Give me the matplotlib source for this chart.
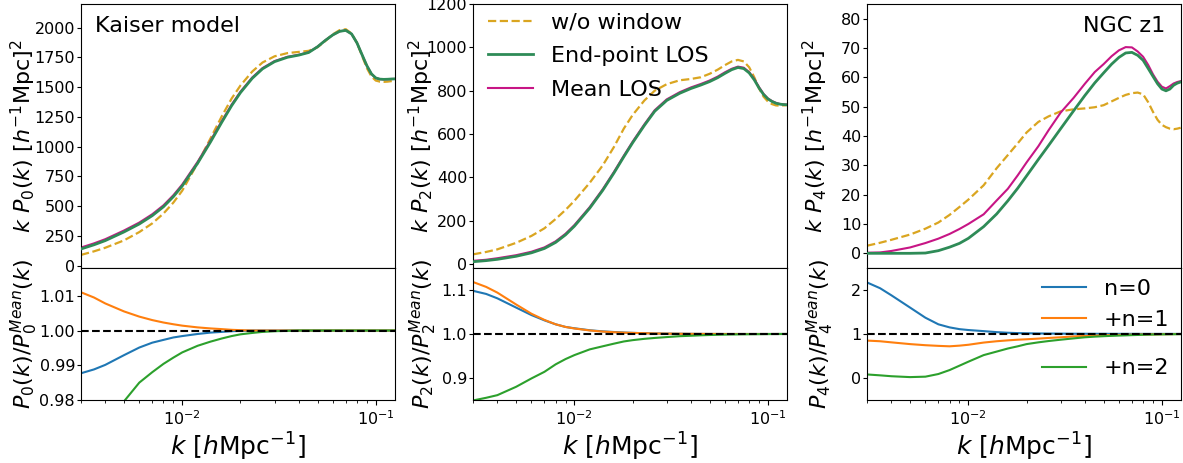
import matplotlib
matplotlib.use("Agg")
import matplotlib.pyplot as plt
from matplotlib.ticker import FixedLocator

# wavenumbers [h/Mpc]
k = [0.003, 0.0035, 0.004, 0.005, 0.006, 0.007, 0.008, 0.009, 0.010, 0.012,
     0.014, 0.016, 0.018, 0.020, 0.023, 0.026, 0.030, 0.035, 0.040, 0.045,
     0.050, 0.055, 0.060, 0.065, 0.070, 0.075, 0.080, 0.085, 0.090, 0.095,
     0.100, 0.105, 0.110, 0.115, 0.120, 0.125]

# k P_0(k)
p0_nowin = [90, 120, 150, 212, 282, 355, 438, 530, 630, 860, 1070, 1255, 1405, 1515,
            1632, 1708, 1760, 1787, 1797, 1806, 1836, 1890, 1945, 1980, 1988, 1952,
            1872, 1762, 1660, 1590, 1556, 1547, 1545, 1547, 1551, 1555]
p0_end = [140, 175, 210, 283, 350, 420, 495, 580, 670, 860, 1040, 1205, 1345, 1455,
          1575, 1655, 1715, 1752, 1770, 1792, 1840, 1895, 1940, 1970, 1978, 1948,
          1872, 1772, 1680, 1612, 1578, 1568, 1566, 1567, 1569, 1570]
p0_mean = [152, 187, 222, 295, 362, 432, 507, 592, 682, 872, 1051, 1215, 1354, 1463,
           1582, 1661, 1720, 1756, 1773, 1794, 1841, 1896, 1940, 1970, 1978, 1948,
           1872, 1772, 1680, 1612, 1578, 1568, 1566, 1567, 1569, 1570]

# k P_2(k)
p2_nowin = [45, 56, 68, 98, 130, 165, 208, 250, 292, 375, 455, 540, 625, 688, 755, 800,
            830, 848, 854, 862, 878, 897, 918, 935, 942, 935, 908, 862, 810, 772, 750,
            738, 732, 731, 732, 733]
p2_end = [11, 16, 22, 36, 52, 72, 100, 135, 175, 258, 340, 420, 495, 560, 640, 705,
          755, 788, 810, 826, 842, 860, 880, 897, 907, 902, 882, 850, 812, 782, 762,
          750, 742, 738, 736, 735]
p2_mean = [15, 20, 27, 41, 57, 77, 105, 140, 180, 263, 345, 425, 500, 565, 645, 710,
           760, 793, 815, 831, 847, 865, 885, 901, 911, 906, 886, 854, 816, 785, 764,
           752, 744, 739, 737, 736]

# k P_4(k)
p4_nowin = [2.6, 3.6, 4.6, 6.4, 8.4, 10.5, 13.1, 15.8, 18.3, 23.2, 29.0, 33.5, 37.5,
            41.2, 44.8, 46.7, 48.4, 49.1, 49.4, 49.8, 50.5, 51.8, 53.0, 54.0, 54.6,
            54.8, 54.2, 51.5, 48.2, 45.5, 43.8, 43.0, 42.5, 42.3, 42.5, 42.8]
p4_end = [0.0, 0.0, 0.0, 0.0, 0.1, 0.9, 2.1, 3.4, 5.1, 9.1, 13.4, 17.9, 22.2, 26.4,
          32.0, 36.8, 42.5, 48.6, 53.8, 58.1, 61.5, 64.5, 66.8, 68.3, 68.5, 67.5,
          65.8, 63.0, 60.3, 57.8, 56.0, 55.4, 56.0, 57.3, 58.0, 58.4]
p4_mean = [0.2, 0.3, 0.8, 2.0, 3.5, 5.0, 6.6, 8.3, 10.0, 13.3, 18.0, 22.0, 26.6, 31.0,
           36.5, 42.0, 48.0, 53.0, 57.8, 61.8, 64.5, 67.2, 69.2, 70.3, 70.2, 68.8,
           67.0, 64.2, 61.0, 58.5, 56.8, 56.2, 57.0, 57.9, 58.4, 58.7]

# ratios P_l / P_l^Mean for n=0, +n=1, +n=2
r0_n0 = [0.9877, 0.9888, 0.9901, 0.9929, 0.9951, 0.9965, 0.9973, 0.9980, 0.9984, 0.9990,
         0.9994, 0.9996, 0.9998, 0.9999, 1.0, 1.0, 1.0, 1.0, 1.0, 1.0, 1.0, 1.0, 1.0,
         1.0, 1.0, 1.0, 1.0, 1.0, 1.0, 1.0, 1.0, 1.0, 1.0, 1.0, 1.0, 1.0]
r0_n1 = [1.0110, 1.0095, 1.0078, 1.0055, 1.0040, 1.0030, 1.0023, 1.0018, 1.0014, 1.0009,
         1.0006, 1.0004, 1.0002, 1.0001, 1.0, 1.0, 1.0, 1.0, 1.0, 1.0, 1.0, 1.0, 1.0,
         1.0, 1.0, 1.0, 1.0, 1.0, 1.0, 1.0, 1.0, 1.0, 1.0, 1.0, 1.0, 1.0]
r0_n2 = [0.962, 0.967, 0.972, 0.9796, 0.9850, 0.9880, 0.9904, 0.9922, 0.9937, 0.9956,
         0.9968, 0.9977, 0.9984, 0.9989, 0.9993, 0.9996, 0.9998, 0.9999, 1.0, 1.0, 1.0,
         1.0, 1.0, 1.0, 1.0, 1.0, 1.0, 1.0, 1.0, 1.0, 1.0, 1.0, 1.0, 1.0, 1.0, 1.0]

r2_n0 = [1.098, 1.091, 1.081, 1.060, 1.043, 1.031, 1.022, 1.016, 1.013, 1.0085, 1.006,
         1.0045, 1.0033, 1.0025, 1.0018, 1.0012, 1.0008, 1.0005, 1.0003, 1.0002, 1.0001,
         1.0001, 1.0, 1.0, 1.0, 1.0, 1.0, 1.0, 1.0, 1.0, 1.0, 1.0, 1.0, 1.0, 1.0, 1.0]
r2_n1 = [1.118, 1.107, 1.094, 1.067, 1.046, 1.032, 1.022, 1.016, 1.0125, 1.008, 1.0055,
         1.004, 1.003, 1.0025, 1.0018, 1.0012, 1.0008, 1.0005, 1.0003, 1.0002, 1.0001,
         1.0001, 1.0, 1.0, 1.0, 1.0, 1.0, 1.0, 1.0, 1.0, 1.0, 1.0, 1.0, 1.0, 1.0, 1.0]
r2_n2 = [0.849, 0.855, 0.861, 0.880, 0.899, 0.914, 0.931, 0.943, 0.952, 0.965, 0.972,
         0.978, 0.983, 0.986, 0.989, 0.991, 0.993, 0.995, 0.996, 0.997, 0.9977, 0.9982,
         0.9986, 0.9989, 0.9991, 0.9993, 0.9994, 0.9995, 0.9996, 0.9997, 0.9998, 0.9999,
         0.9999, 1.0, 1.0, 1.0]

r4_n0 = [2.17, 2.04, 1.88, 1.60, 1.37, 1.22, 1.15, 1.11, 1.09, 1.065, 1.042, 1.028, 1.02,
         1.016, 1.012, 1.01, 1.008, 1.006, 1.005, 1.004, 1.004, 1.003, 1.003, 1.003,
         1.003, 1.003, 1.002, 1.002, 1.002, 1.002, 1.002, 1.002, 1.002, 1.002, 1.002, 1.002]
r4_n1 = [0.85, 0.835, 0.81, 0.77, 0.745, 0.73, 0.72, 0.735, 0.755, 0.805, 0.835, 0.855,
         0.87, 0.88, 0.895, 0.91, 0.925, 0.945, 0.955, 0.963, 0.97, 0.975, 0.979, 0.982,
         0.985, 0.987, 0.989, 0.99, 0.992, 0.993, 0.995, 0.996, 0.997, 0.998, 0.999, 1.0]
r4_n2 = [0.08, 0.06, 0.04, 0.02, 0.03, 0.09, 0.18, 0.28, 0.37, 0.52, 0.60, 0.67, 0.72,
         0.77, 0.81, 0.84, 0.87, 0.90, 0.925, 0.94, 0.95, 0.958, 0.964, 0.969, 0.974,
         0.978, 0.982, 0.985, 0.987, 0.989, 0.991, 0.992, 0.993, 0.994, 0.995, 0.996]

ells = [0, 2, 4]
top_data = [(p0_nowin, p0_end, p0_mean), (p2_nowin, p2_end, p2_mean), (p4_nowin, p4_end, p4_mean)]
bot_data = [(r0_n0, r0_n1, r0_n2), (r2_n0, r2_n1, r2_n2), (r4_n0, r4_n1, r4_n2)]
top_ylim = [(-20, 2200), (-18, 1200), (-5, 85)]
top_ticks = [range(0, 2001, 250), range(0, 1201, 200), range(0, 81, 10)]
bot_ylim = [(0.98, 1.018), (0.85, 1.15), (-0.5, 2.5)]
bot_ticks = [[0.98, 0.99, 1.00, 1.01], [0.9, 1.0, 1.1], [0, 1, 2]]
bot_fmt = ['{:.2f}', '{:.1f}', '{:.0f}']
top_labx = [-0.137, -0.12, -0.118]
bot_labx = [-0.13, -0.11, -0.10]

fig = plt.figure(figsize=(11.83, 4.63), dpi=100)
lefts = [0.0685, 0.400, 0.733]
width = 0.265

for i, ell in enumerate(ells):
    ax = fig.add_axes([lefts[i], 0.4212, width, 0.5702])
    axr = fig.add_axes([lefts[i], 0.1361, width, 0.2851], sharex=ax)

    nowin, end, mean = top_data[i]
    ax.plot(k, nowin, color='goldenrod', ls='--', lw=1.6, label='w/o window')
    ax.plot(k, end, color='seagreen', lw=2.0, label='End-point LOS', zorder=3)
    ax.plot(k, mean, color='mediumvioletred', lw=1.5, label='Mean LOS', zorder=2.5)
    ax.set_xscale('log')
    ax.set_xlim(0.003, 0.125)
    ax.set_ylim(*top_ylim[i])
    ax.yaxis.set_major_locator(FixedLocator(list(top_ticks[i])))
    ax.tick_params(axis='x', which='both', bottom=False, labelbottom=False)
    ax.tick_params(axis='y', labelsize=11.5, length=2.8, pad=1.5)
    ax.set_ylabel(r'$k\ P_%d(k)\ [h^{-1}{\rm Mpc}]^2$' % ell, fontsize=16)
    ax.yaxis.set_label_coords(top_labx[i], 0.5)

    n0, n1, n2 = bot_data[i]
    axr.plot(k, n0, color='tab:blue', lw=1.5, label='n=0')
    axr.plot(k, n1, color='tab:orange', lw=1.5, label='+n=1')
    axr.plot(k, n2, color='tab:green', lw=1.5, label='+n=2')
    axr.axhline(1.0, color='k', ls='--', lw=1.5)
    axr.set_ylim(*bot_ylim[i])
    axr.set_yticks(bot_ticks[i])
    axr.set_yticklabels([bot_fmt[i].format(t) for t in bot_ticks[i]])
    axr.tick_params(axis='y', labelsize=11.5, length=2.8, pad=1.5)
    axr.tick_params(axis='x', labelsize=11.5)
    axr.set_ylabel(r'$P_%d(k)/P_%d^{Mean}(k)$' % (ell, ell), fontsize=16)
    axr.yaxis.set_label_coords(bot_labx[i], 0.5)
    axr.set_xlabel(r'$k\ [h{\rm Mpc}^{-1}]$', fontsize=18)
    axr.xaxis.set_label_coords(0.5, -0.235)

    if i == 0:
        ax.text(0.045, 0.955, 'Kaiser model', transform=ax.transAxes,
                fontsize=16, va='top', ha='left')
    if i == 1:
        ax.legend(loc='upper left', bbox_to_anchor=(0.02, 1.0), frameon=False,
                  fontsize=16, borderaxespad=0.0, handletextpad=0.8, labelspacing=0.6)
    if i == 2:
        ax.text(0.95, 0.955, 'NGC z1', transform=ax.transAxes,
                fontsize=16, va='top', ha='right')
        h = axr.get_lines()
        leg1 = axr.legend(h[:2], ['n=0', '+n=1'], loc='upper right', frameon=False,
                          fontsize=16, borderaxespad=0.1)
        axr.add_artist(leg1)
        axr.legend([h[2]], ['+n=2'], loc='lower right', frameon=False,
                   fontsize=16, bbox_to_anchor=(1.0, 0.08), borderaxespad=0.1)

fig.savefig('out.png', dpi=100)
